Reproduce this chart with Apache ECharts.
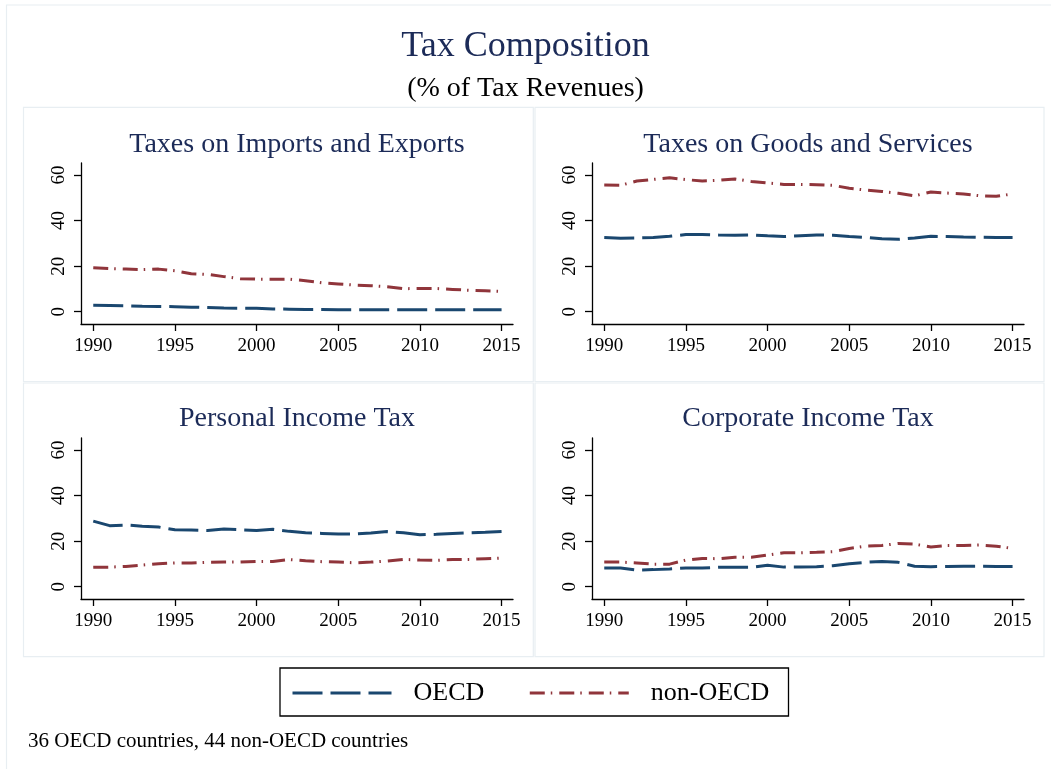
<!DOCTYPE html>
<html>
<head>
<meta charset="utf-8">
<script src="https://cdn.jsdelivr.net/npm/echarts@6/dist/echarts.min.js"></script>
<style>
html,body{margin:0;padding:0;background:#fff;}
#chart{width:1051px;height:769px;}
</style>
</head>
<body>
<div id="chart"></div>
<script>
const years = [1990,1991,1992,1993,1994,1995,1996,1997,1998,1999,2000,2001,2002,2003,2004,2005,2006,2007,2008,2009,2010,2011,2012,2013,2014,2015];
const xTicks = [1990,1995,2000,2005,2010,2015];
const yTicks = [0,20,40,60];
const panelTitles = ['Taxes on Imports and Exports','Taxes on Goods and Services','Personal Income Tax','Corporate Income Tax'];
const seriesNames = ['OECD','non-OECD'];

const importsOECD = [2.8,2.7,2.6,2.4,2.3,2.2,2.0,1.8,1.6,1.5,1.5,1.2,1.1,1.0,1.0,0.9,0.9,0.9,0.9,0.9,0.9,0.9,0.9,0.9,0.9,0.9];
const importsNon  = [19.3,18.9,18.7,18.5,18.7,18.0,16.7,16.4,15.4,14.5,14.3,14.2,14.3,13.6,12.7,12.2,11.7,11.4,11.0,10.1,10.2,10.2,9.8,9.4,9.2,8.9];
const goodsOECD   = [32.6,32.3,32.4,32.6,33.1,33.9,33.9,33.7,33.6,33.7,33.3,33.0,33.4,33.7,33.6,33.0,32.6,32.0,31.8,32.4,33.1,33.0,32.8,32.7,32.6,32.6];
const goodsNon    = [55.6,55.5,57.4,58.1,58.8,58.0,57.4,57.7,58.3,57.2,56.5,55.9,55.9,55.8,55.5,54.2,53.4,52.8,52.0,50.9,52.6,52.1,51.7,50.9,50.7,51.7];
const pitOECD     = [28.8,26.8,27.1,26.6,26.2,25.0,24.9,24.7,25.3,25.0,24.7,25.2,24.3,23.7,23.4,23.1,23.1,23.6,24.2,23.7,22.8,23.0,23.4,23.7,23.9,24.2];
const pitNon      = [8.5,8.6,8.9,9.5,10.1,10.4,10.4,10.7,10.8,10.8,11.1,11.1,11.9,11.4,11.0,10.8,10.5,10.8,11.3,12.0,11.7,11.6,11.9,12.0,12.3,12.6];
const citOECD     = [8.2,8.2,7.3,7.5,7.8,8.2,8.2,8.5,8.5,8.5,9.4,8.6,8.6,8.8,9.2,10.1,10.7,11.1,10.7,9.0,8.8,8.9,9.0,9.0,8.9,8.9];
const citNon      = [10.8,10.8,10.4,9.9,9.9,11.7,12.4,12.3,12.9,12.9,13.9,14.9,14.9,15.1,15.4,16.8,17.8,18.1,19.0,18.7,17.4,18.1,18.1,18.3,17.8,16.8];

const panelData = [[importsOECD,importsNon],[goodsOECD,goodsNon],[pitOECD,pitNon],[citOECD,citNon]];

const FONT = '"Liberation Serif","Times New Roman",serif';
const NAVY = '#1c2b58';
const BLUE = '#1a476f';
const RED = '#90353b';
const DASH_OECD = [30,8];
const DASH_NON = [15,6,1.5,7];

const gridPos = [
  {left:81, top:163},
  {left:592, top:163},
  {left:81, top:438},
  {left:592, top:438}
];
const GW = 432, GH = 161;

const grids = [], xAxes = [], yAxes = [], series = [], titles = [];

titles.push({text:'Tax Composition', left:'center', top:29, padding:0,
  textStyle:{fontFamily:FONT, fontSize:36, fontWeight:'normal', color:NAVY, lineHeight:36}});
titles.push({text:'(% of Tax Revenues)', left:'center', top:75, padding:0,
  textStyle:{fontFamily:FONT, fontSize:28, fontWeight:'normal', color:'#000', lineHeight:28}});
titles.push({text:'36 OECD countries, 44 non-OECD countries', left:28, top:731, padding:0,
  textStyle:{fontFamily:FONT, fontSize:21, fontWeight:'normal', color:'#000', lineHeight:21}});

gridPos.forEach((g,i)=>{
  grids.push({left:g.left, top:g.top, width:GW, height:GH, containLabel:false});
  titles.push({text:panelTitles[i], left:g.left + GW/2, textAlign:'center', top:(i<2?145:419)-14, padding:0,
    textStyle:{fontFamily:FONT, fontSize:28, fontWeight:'normal', color:NAVY, lineHeight:28}});
  xAxes.push({type:'value', gridIndex:i, min:1989.25, max:2015.7,
    axisLine:{show:true, onZero:false, lineStyle:{color:'#000', width:1.3}},
    axisTick:{show:true, length:7, customValues:xTicks, lineStyle:{color:'#000', width:1.3}},
    axisLabel:{customValues:xTicks, margin:13, fontFamily:FONT, fontSize:19, color:'#000', formatter:v=>String(v)},
    splitLine:{show:false}});
  yAxes.push({type:'value', gridIndex:i, min:-5.4, max:65.3,
    axisLine:{show:true, onZero:false, lineStyle:{color:'#000', width:1.3}},
    axisTick:{show:true, length:7, customValues:yTicks, lineStyle:{color:'#000', width:1.3}},
    axisLabel:{customValues:yTicks, rotate:90, margin:12, fontFamily:FONT, fontSize:19, color:'#000'},
    splitLine:{show:false}});
  const [oecd, non] = panelData[i];
  series.push({name:seriesNames[0], type:'line', xAxisIndex:i, yAxisIndex:i, symbol:'none', silent:true,
    data:years.map((y,k)=>[y,oecd[k]]), lineStyle:{color:BLUE, width:3, type:DASH_OECD}, itemStyle:{color:BLUE}});
  series.push({name:seriesNames[1], type:'line', xAxisIndex:i, yAxisIndex:i, symbol:'none', silent:true,
    data:years.map((y,k)=>[y,non[k]]), lineStyle:{color:RED, width:3, type:DASH_NON}, itemStyle:{color:RED}});
});

const boxStyle = {fill:'none', stroke:'#e8eef2', lineWidth:1.2};
const graphics = [
  {type:'rect', shape:{x:6.5, y:5, width:1070, height:800}, style:boxStyle, silent:true},
  {type:'rect', shape:{x:23.5, y:107.3, width:509.8, height:274.2}, style:boxStyle, silent:true},
  {type:'rect', shape:{x:535, y:107.3, width:509, height:274.2}, style:boxStyle, silent:true},
  {type:'rect', shape:{x:23.5, y:383, width:509.8, height:273.7}, style:boxStyle, silent:true},
  {type:'rect', shape:{x:535, y:383, width:509, height:273.7}, style:boxStyle, silent:true},
  {type:'rect', shape:{x:280, y:668, width:508.5, height:48}, style:{fill:'#fff', stroke:'#000', lineWidth:1.3}, silent:true, z:-1}
];

const chart = echarts.init(document.getElementById('chart'), null, {renderer:'canvas'});
chart.setOption({
  backgroundColor:'#fff',
  animation:false,
  title:titles,
  grid:grids,
  xAxis:xAxes,
  yAxis:yAxes,
  series:series,
  graphic:graphics,
  legend:{
    data:[
      {name:seriesNames[0], lineStyle:{color:BLUE, width:3, type:DASH_OECD}},
      {name:seriesNames[1], lineStyle:{color:RED, width:3, type:DASH_NON}}
    ],
    left:291, top:680, padding:0, itemWidth:99, itemHeight:14, itemGap:44,
    selectedMode:false,
    itemStyle:{opacity:0},
    lineStyle:{width:3},
    textStyle:{fontFamily:FONT, fontSize:26, color:'#000', padding:[0,0,0,17], lineHeight:26}}
});
</script>
</body>
</html>
